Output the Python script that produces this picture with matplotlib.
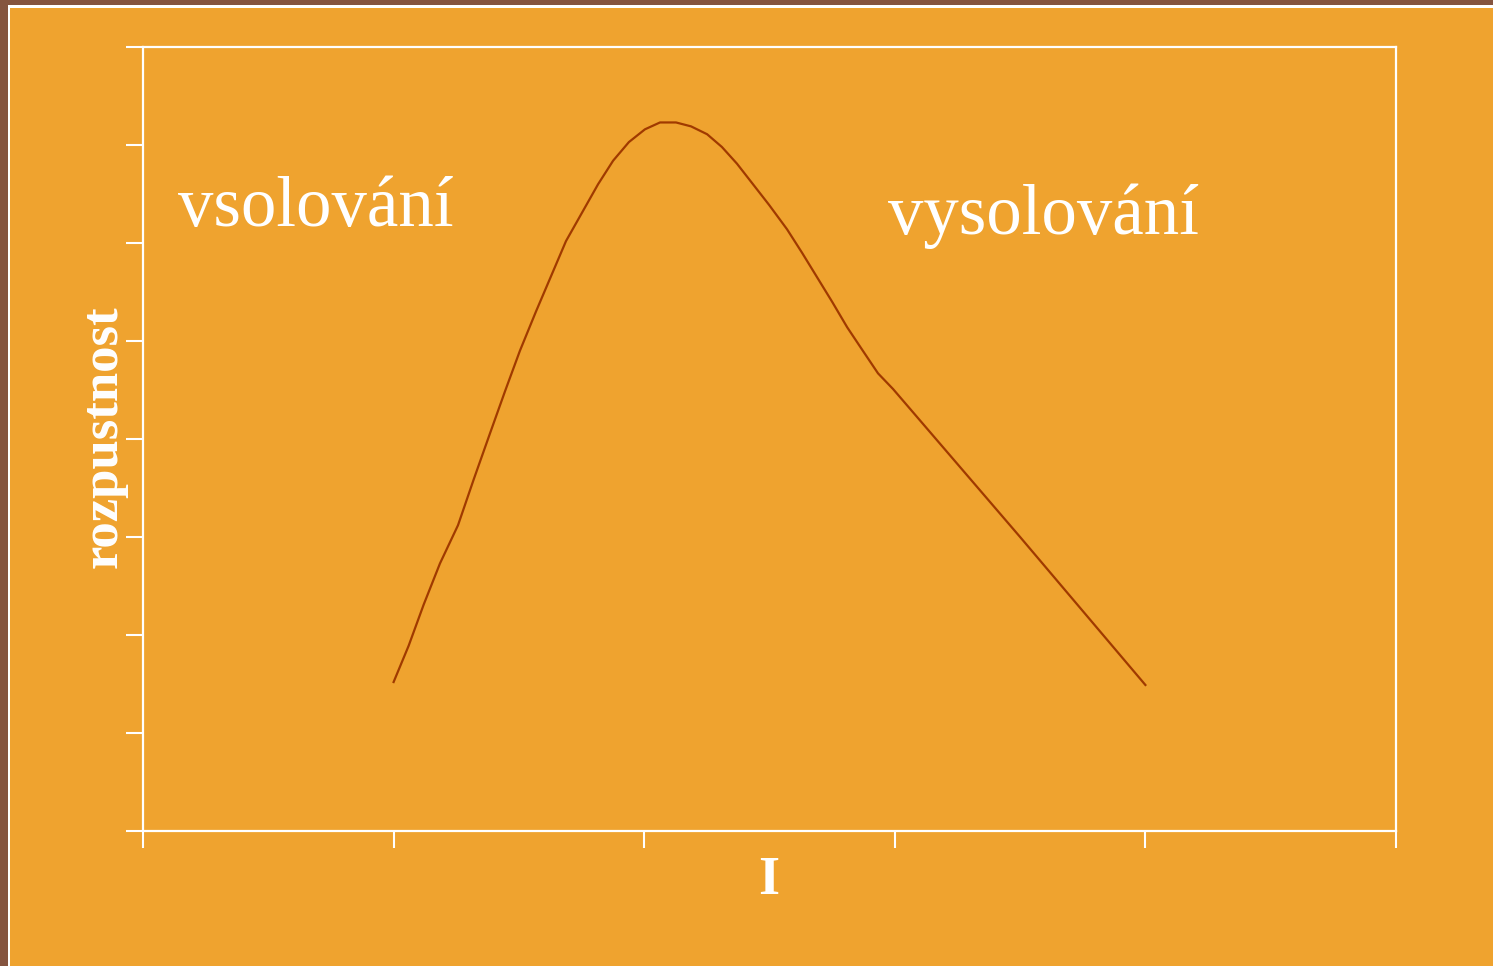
#!/usr/bin/env python3
"""
Solubility vs. ionic strength sketch (salting in / salting out)
"""
import matplotlib
matplotlib.use("Agg")
import matplotlib.pyplot as plt
from matplotlib.patches import Rectangle

# curve (x = ionic strength, y = solubility, arbitrary units)
ionic_strength = [1.00, 1.06, 1.12, 1.185, 1.257, 1.32, 1.385, 1.445, 1.504, 1.568,
                  1.628, 1.688, 1.752, 1.816, 1.876, 1.939, 2.003, 2.063, 2.127, 2.187,
                  2.251, 2.31, 2.37, 2.434, 2.498, 2.57, 2.63, 2.69, 2.75, 2.81,
                  2.87, 2.933, 2.993, 3.5, 4.0]
solubility = [1.52, 1.89, 2.31, 2.73, 3.12, 3.59, 4.06, 4.49, 4.90, 5.30,
              5.66, 6.02, 6.31, 6.60, 6.84, 7.03, 7.16, 7.23, 7.23, 7.19,
              7.11, 6.98, 6.81, 6.60, 6.39, 6.14, 5.90, 5.65, 5.40, 5.14,
              4.91, 4.67, 4.51, 3.00, 1.49]
x_ticks = [0, 1, 2, 3, 4, 5]
y_ticks = [0, 1, 2, 3, 4, 5, 6, 7, 8]

W, H = 1493, 966
ORANGE = "#EFA32F"
BROWN = "#85543F"
LINE = "#A03A00"


def main():
    fig = plt.figure(figsize=(W / 100, H / 100), dpi=100)
    fig.patch.set_facecolor(BROWN)

    # slide panel with thin white frame (kept behind the axes)
    fig.patches.append(Rectangle((8 / W, 0), 1, 1 - 5 / H, transform=fig.transFigure,
                                 facecolor="white", edgecolor="none", zorder=-2))
    fig.patches.append(Rectangle((10 / W, 0), 1, 1 - 8 / H, transform=fig.transFigure,
                                 facecolor=ORANGE, edgecolor="none", zorder=-1))

    ax = fig.add_axes([143 / W, (H - 831) / H, (1396 - 143) / W, (831 - 47) / H])
    ax.set_facecolor("none")
    ax.plot(ionic_strength, solubility, color=LINE, lw=1.6)
    ax.set_xlim(0, 5)
    ax.set_ylim(0, 8)
    ax.set_xticks(x_ticks)
    ax.set_yticks(y_ticks)
    ax.set_xticklabels([])
    ax.set_yticklabels([])
    for sp in ax.spines.values():
        sp.set_color("white")
        sp.set_linewidth(1.6)
    ax.tick_params(axis="both", colors="white", width=1.5, length=12, direction="out")

    serif = ["Liberation Serif", "DejaVu Serif"]
    fig.text(178 / W, 1 - 226 / H, "vsolování", color="white", fontsize=51,
             family=serif, ha="left", va="baseline")
    fig.text(888 / W, 1 - 234 / H, "vysolování", color="white", fontsize=51,
             family=serif, ha="left", va="baseline")
    fig.text(104 / W, 1 - 437 / H, "rozpustnost", color="white", fontsize=38,
             family=serif, weight="bold", rotation=90, ha="center", va="center")
    fig.text(769 / W, 1 - 881 / H, "I", color="white", fontsize=39,
             family=serif, weight="bold", ha="center", va="center")

    fig.savefig("out.png", dpi=100, facecolor=fig.get_facecolor())


if __name__ == "__main__":
    main()
